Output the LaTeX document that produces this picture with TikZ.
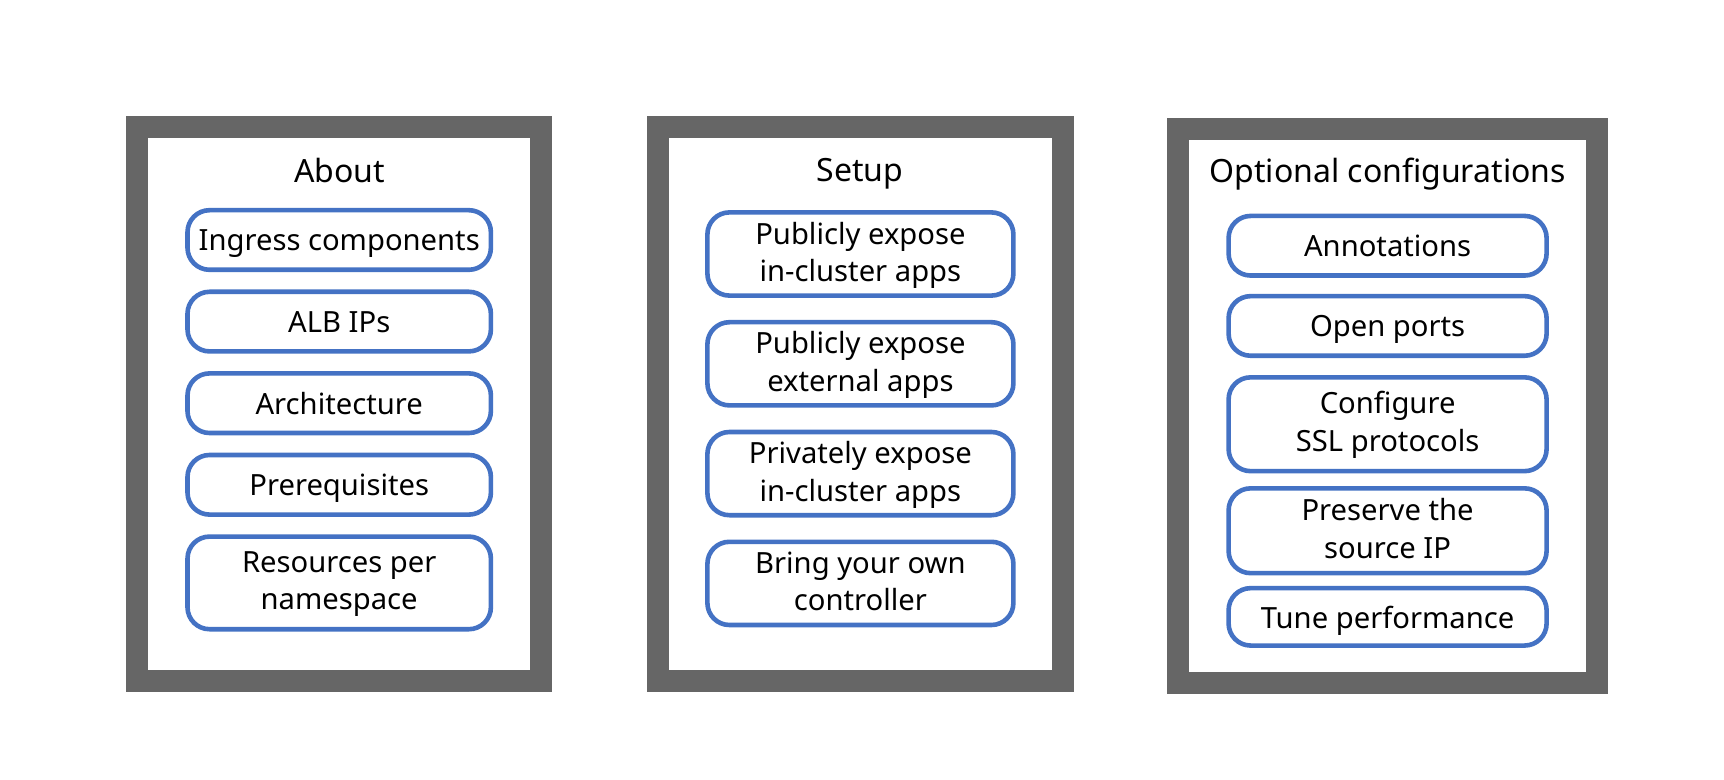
\documentclass[tikz,border=0pt]{standalone}
\usepackage{fontspec}
\setmainfont{Noto Sans}
\usetikzlibrary{positioning}
\definecolor{framegray}{HTML}{666666}
\definecolor{itemblue}{HTML}{4472C4}

\begin{document}
\begin{tikzpicture}[
      x=0.5pt, y=-0.5pt,
      panel/.style  = {draw=framegray, line width=11pt, fill=white},
      title/.style  = {font=\fontsize{16}{19}\selectfont, text depth=0pt},
      item/.style   = {rectangle, draw=itemblue, line width=2.3pt,
                       rounded corners=11pt, fill=white,
                       minimum height=29.8pt, align=center, inner sep=2pt,
                       text depth=0pt,
                       font=\fontsize{14.6}{18.7}\selectfont},
      twoline/.style = {text depth=2.3pt},
      about/.style  = {item, minimum width=151.7pt},
      setup/.style  = {item, twoline, minimum width=153pt, minimum height=41.6pt},
      opt/.style    = {item, minimum width=159pt},
    ]
    \useasboundingbox (0,0) rectangle (1724,780);

    % Frames
    \draw[panel] (137.4,126.8) rectangle (541,681);
    \draw[panel] (657.5,126.8) rectangle (1063.2,681);
    \draw[panel] (1177.6,128.6) rectangle (1597,683.3);

    % Titles
    \node[title] (tabout) at (339.7,170.4) {About};
    \node[title] (tsetup) at (859.8,170.4) {Setup};
    \node[title] (topt)   at (1387.6,170.5) {Optional configurations};

    % About column
    \node[about] (ingress) at (339.2,240) {Ingress components};
    \node[about, below=8.7pt of ingress] (albips) {ALB IPs};
    \node[about, below=8.7pt of albips]  (arch)   {Architecture};
    \node[about, below=8.7pt of arch]    (prereq) {Prerequisites};
    \node[about, twoline, below=8.7pt of prereq, minimum height=46.3pt] (resns)
          {Resources per\\namespace};

    % Setup column
    \node[setup] (pubin) at (860.4,254) {Publicly expose\\in-cluster apps};
    \node[setup, below=11pt of pubin]  (pubext) {Publicly expose\\external apps};
    \node[setup, below=11pt of pubext] (privin) {Privately expose\\in-cluster apps};
    \node[setup, below=11pt of privin] (byoc)   {Bring your own\\controller};

    % Optional configurations column
    \node[opt] (annot) at (1387.6,245.75) {Annotations};
    \node[opt, below=8pt of annot] (ports) {Open ports};
    \node[opt, twoline, below=8.5pt of ports, minimum height=46.9pt,
          text depth=3pt] (ssl)
          {Configure\\SSL protocols};
    \node[opt, twoline, below=6.3pt of ssl, minimum height=42.4pt] (srcip)
          {Preserve the\\source IP};
    \node[opt, below=5.2pt of srcip, minimum height=28.7pt] (tune)
          {Tune performance};
  \end{tikzpicture}
\end{document}
